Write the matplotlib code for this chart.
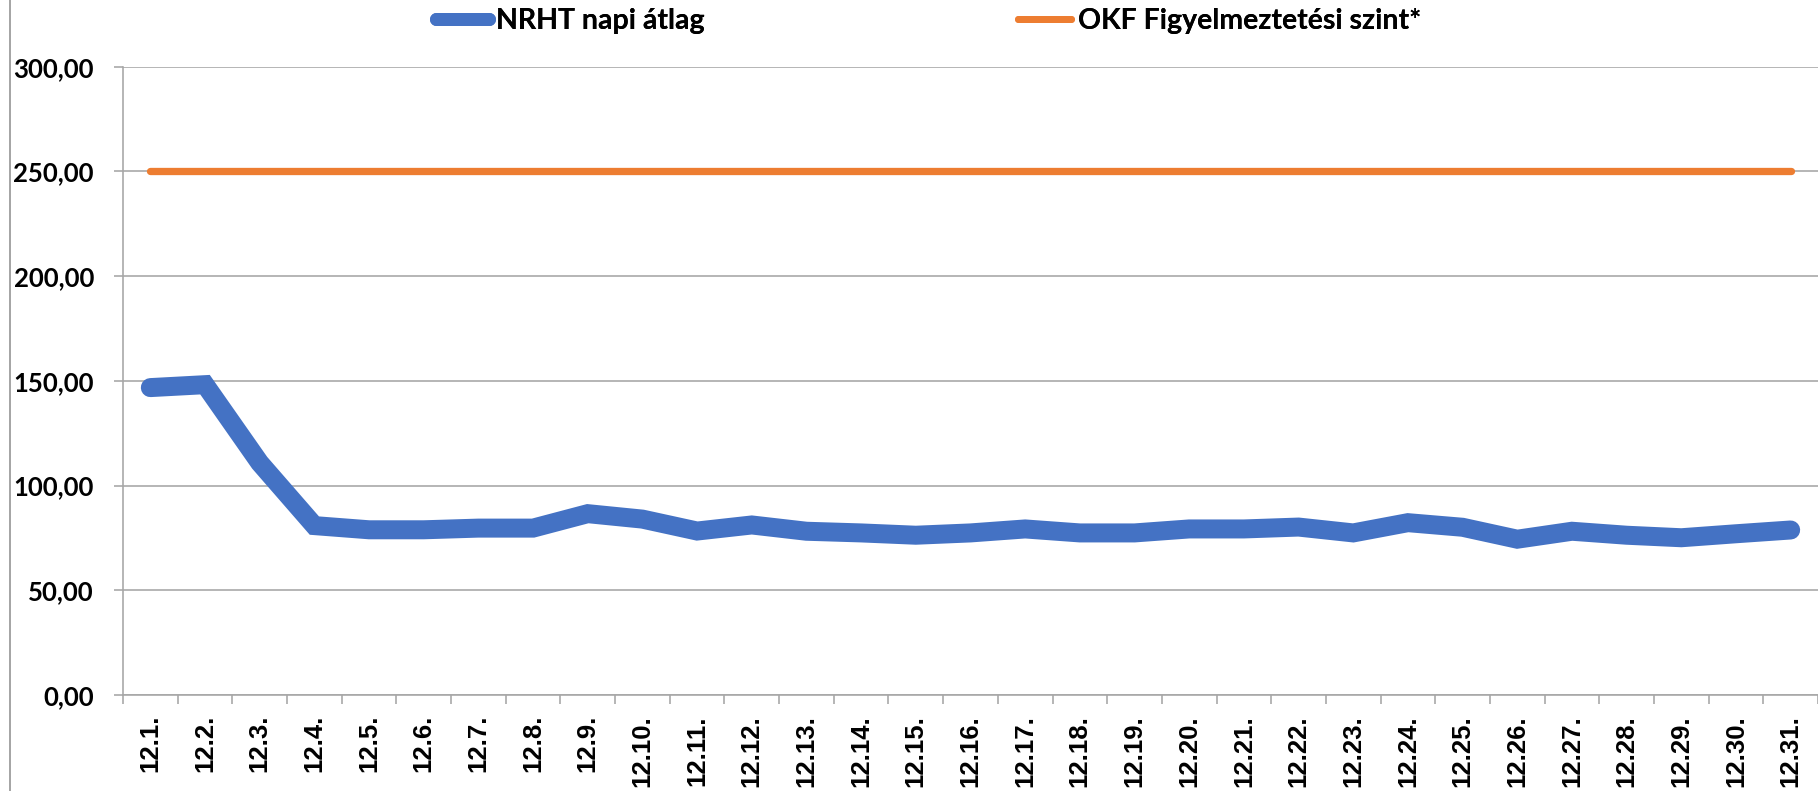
from __future__ import annotations

import matplotlib

matplotlib.use("Agg")
import matplotlib.pyplot as plt
from matplotlib.lines import Line2D
from matplotlib.ticker import FuncFormatter, MultipleLocator

days = [
    "12.1.", "12.2.", "12.3.", "12.4.", "12.5.", "12.6.", "12.7.", "12.8.", "12.9.", "12.10.",
    "12.11.", "12.12.", "12.13.", "12.14.", "12.15.", "12.16.", "12.17.", "12.18.", "12.19.", "12.20.",
    "12.21.", "12.22.", "12.23.", "12.24.", "12.25.", "12.26.", "12.27.", "12.28.", "12.29.", "12.30.",
    "12.31.",
]
nrht_daily = [
    146.8, 148.2, 110.9, 80.9, 78.9, 78.9, 79.7, 79.7, 86.6, 84.0,
    78.3, 81.2, 78.2, 77.4, 76.3, 77.4, 79.3, 77.4, 77.4, 79.3,
    79.3, 80.2, 77.4, 82.3, 80.1, 74.4, 78.2, 76.3, 75.1, 77.0,
    78.8,
]
okf_level = [
    250, 250, 250, 250, 250, 250, 250, 250, 250, 250,
    250, 250, 250, 250, 250, 250, 250, 250, 250, 250,
    250, 250, 250, 250, 250, 250, 250, 250, 250, 250,
    250,
]
series_labels = ["NRHT napi átlag", "OKF Figyelmeztetési szint*"]

BLUE = "#4472C4"
ORANGE = "#ED7D31"
GRID = "#A6A6A6"
W, H, DPI = 1818, 791, 100


def px(value: float) -> float:
    return value * 72.0 / DPI


def hu_number(value: float, _pos=None) -> str:
    return f"{value:.2f}".replace(".", ",")


def main() -> None:
    fig = plt.figure(figsize=(W / DPI, H / DPI), dpi=DPI)
    ax = fig.add_axes([123 / W, 1 - 695 / H, 1 - 123 / W, (695 - 66.8) / H])

    x = list(range(len(days)))
    ax.plot(x, okf_level, color=ORANGE, linewidth=px(7.3), solid_capstyle="round", zorder=3)
    ax.plot(x, nrht_daily, color=BLUE, linewidth=px(19), solid_capstyle="round",
            solid_joinstyle="miter", zorder=4)

    ax.set_xlim(-0.5, len(days) - 0.5)
    ax.set_ylim(0, 300)
    ax.yaxis.set_major_locator(MultipleLocator(50))
    ax.yaxis.set_major_formatter(FuncFormatter(hu_number))
    ax.grid(axis="y", color=GRID, linewidth=px(1.6), zorder=0)
    ax.set_axisbelow(True)

    ax.set_xticks(x)
    ax.set_xticklabels(days, rotation=90, fontsize=18.5, fontweight="bold",
                       family="Liberation Sans", va="top")
    ax.set_xticks([i - 0.5 for i in range(len(days) + 1)], minor=True)
    ax.tick_params(axis="x", which="major", length=0, pad=px(20))
    ax.tick_params(axis="x", which="minor", length=px(9), width=px(1.6), color=GRID)
    ax.tick_params(axis="y", length=px(9), width=px(1.6), color=GRID, pad=px(20))
    for label in ax.get_yticklabels():
        label.set_family("Lato")
        label.set_fontweight("bold")
        label.set_fontsize(18.5)

    for side in ("top", "right"):
        ax.spines[side].set_visible(False)
    for side in ("left", "bottom"):
        ax.spines[side].set_color(GRID)
        ax.spines[side].set_linewidth(px(1.6))

    # outer chart border on the left
    fig.add_artist(Line2D([10 / W, 10 / W], [0, 1], transform=fig.transFigure,
                          color=GRID, linewidth=px(2)))

    handles = [
        Line2D([], [], color=BLUE, linewidth=px(13), solid_capstyle="round"),
        Line2D([], [], color=ORANGE, linewidth=px(7), solid_capstyle="round"),
    ]
    for handle, label, x0 in zip(handles, series_labels, [436, 1018]):
        leg = fig.legend(
            [handle], [label],
            loc="center left",
            bbox_to_anchor=(x0 / W, 1 - 21 / H),
            frameon=False,
            borderpad=0,
            borderaxespad=0,
            handlelength=1.85,
            handletextpad=0.25,
            prop={"family": "Lato", "weight": "bold", "size": 20.5},
        )
        fig.add_artist(leg)

    fig.savefig("out.png", dpi=DPI)
    plt.close(fig)


if __name__ == "__main__":
    main()
